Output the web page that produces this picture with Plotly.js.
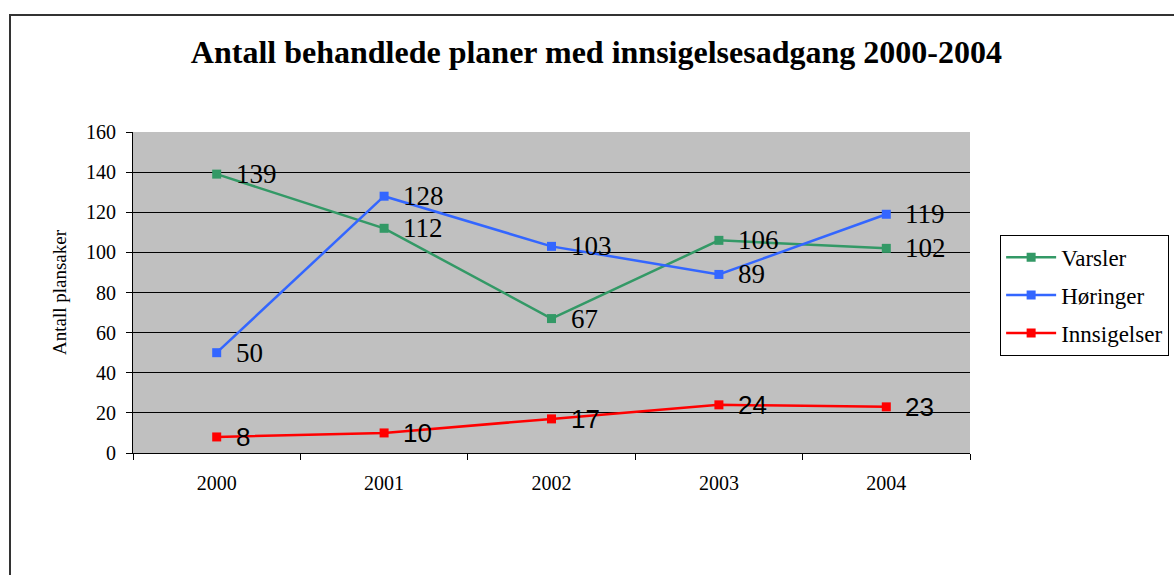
<!DOCTYPE html>
<html>
<head>
<meta charset="utf-8">
<script src="https://cdn.plot.ly/plotly-3.0.1.min.js"></script>
<style>
html,body{margin:0;padding:0;background:#fff;}
#wrap{position:relative;width:1174px;height:575px;overflow:hidden;}
#frame{position:absolute;left:9px;top:14px;width:1200px;height:600px;border:2px solid #333;box-sizing:border-box;pointer-events:none;z-index:5;}
#chart{position:absolute;left:0;top:0;width:1174px;height:575px;}
</style>
</head>
<body>
<div id="wrap"><div id="chart"></div><div id="frame"></div></div>
<script>
const years = ["2000", "2001", "2002", "2003", "2004"];
const varsler = [139, 112, 67, 106, 102];
const horinger = [50, 128, 103, 89, 119];
const innsigelser = [8, 10, 17, 24, 23];
const yTicks = [0, 20, 40, 60, 80, 100, 120, 140, 160];

const serif = "Liberation Serif, Times New Roman, serif";
const sans = "Liberation Sans, Arial, sans-serif";

function trace(name, y, color) {
  return {
    type: "scatter", mode: "lines+markers", name: name,
    legendgroup: name,
    x: years, y: y,
    line: {color: color, width: 2.5},
    marker: {symbol: "square", size: 9, color: color},
    cliponaxis: false
  };
}

const traces = [
  trace("Varsler", varsler, "#339966"),
  trace("Høringer", horinger, "#3366FF"),
  trace("Innsigelser", innsigelser, "#FF0000")
];

const annotations = [];
function addLabels(y, family, size) {
  years.forEach((yr, i) => {
    annotations.push({
      x: i, y: y[i], xref: "x", yref: "y",
      text: String(y[i]), showarrow: false,
      xanchor: "left", yanchor: "middle", xshift: 17,
      font: {family: family, size: size, color: "#000"}
    });
  });
}
addLabels(varsler, serif, 27);
addLabels(horinger, serif, 27);
addLabels(innsigelser, sans, 26);

const layout = {
  width: 1174, height: 575,
  margin: {l: 133, r: 204, t: 132, b: 122, autoexpand: false},
  paper_bgcolor: "#fff",
  plot_bgcolor: "#C0C0C0",
  font: {family: serif, color: "#000"},
  title: {
    text: "<b>Antall behandlede planer med innsigelsesadgang 2000-2004</b>",
    font: {family: serif, size: 32, color: "#000"},
    x: 0.508, xanchor: "center", y: 0.91, yanchor: "middle"
  },
  xaxis: {
    type: "category",
    range: [-0.5, 4.5],
    showgrid: false,
    showline: true, linecolor: "#000", linewidth: 1,
    ticks: "outside", tickson: "boundaries", ticklen: 6, tickcolor: "#000",
    tickfont: {family: serif, size: 20, color: "#000"},
    ticklabelstandoff: 12,
    zeroline: false, fixedrange: true, automargin: false
  },
  yaxis: {
    range: [0, 160],
    tickvals: yTicks, ticktext: yTicks.map(String),
    showgrid: true, gridcolor: "#000", gridwidth: 1,
    showline: true, linecolor: "#000", linewidth: 1,
    ticks: "outside", ticklen: 6, tickcolor: "#000",
    tickfont: {family: serif, size: 20, color: "#000"},
    ticklabelstandoff: 6,
    zeroline: false, fixedrange: true, automargin: false,
    title: {text: "Antall plansaker", font: {family: serif, size: 19, color: "#000"}, standoff: 14}
  },
  showlegend: true,
  legend: {
    x: 1.036, xanchor: "left", y: 0.68, yanchor: "top",
    bgcolor: "#fff", bordercolor: "#000", borderwidth: 1,
    font: {family: serif, size: 23, color: "#000"},
    traceorder: "grouped",
    tracegroupgap: 5,
    itemwidth: 50
  },
  annotations: annotations
};

Plotly.newPlot("chart", traces, layout, {displayModeBar: false, staticPlot: true});
</script>
</body>
</html>
